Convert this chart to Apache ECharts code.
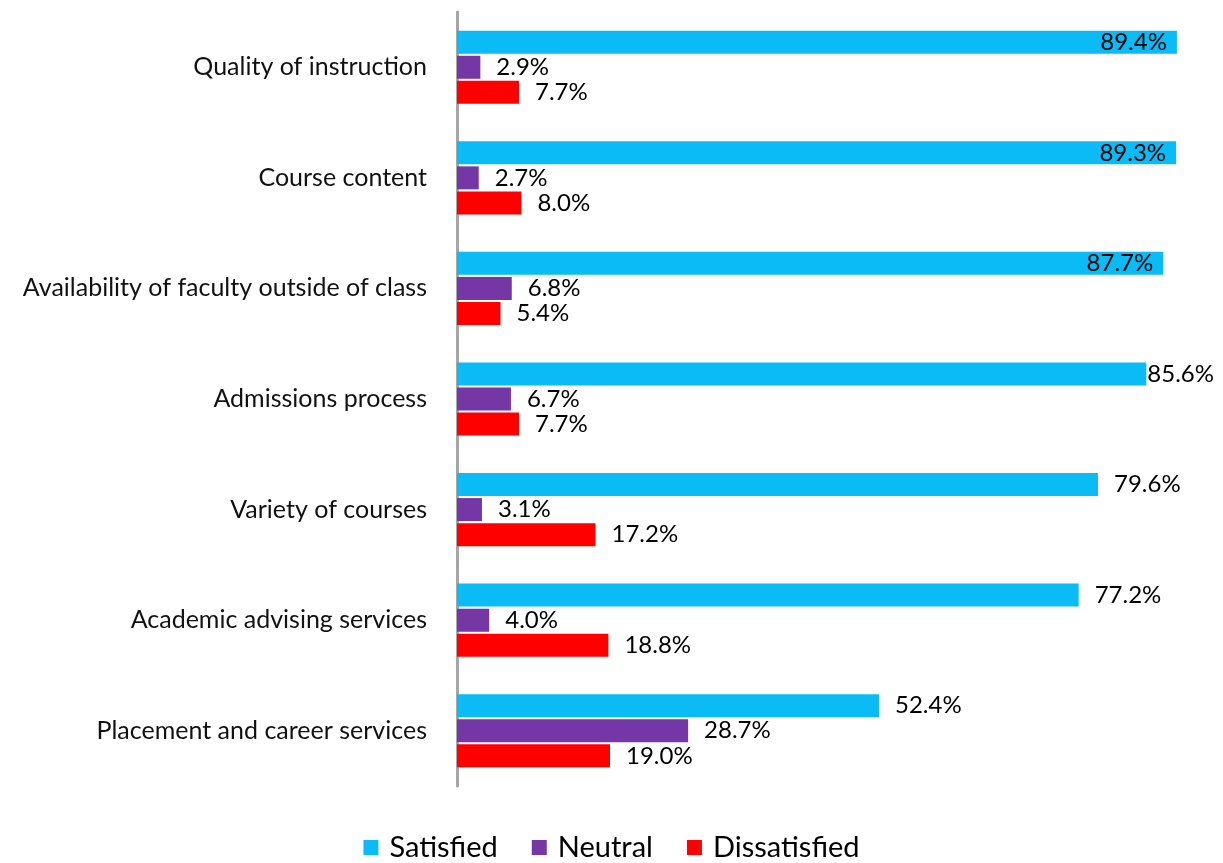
<!DOCTYPE html>
<html>
<head>
<meta charset="utf-8">
<script src="https://cdn.jsdelivr.net/npm/echarts@6/dist/echarts.min.js"></script>
<style>html,body{margin:0;padding:0;background:#fff}#c{width:1223px;height:863px}</style>
</head>
<body>
<div id="c"></div>
<script>
const categories = ["Quality of instruction","Course content","Availability of faculty outside of class","Admissions process","Variety of courses","Academic advising services","Placement and career services"];
const satisfied = [89.4, 89.3, 87.7, 85.6, 79.6, 77.2, 52.4];
const neutral = [2.9, 2.7, 6.8, 6.7, 3.1, 4.0, 28.7];
const dissatisfied = [7.7, 8.0, 5.4, 7.7, 17.2, 18.8, 19.0];
const seriesNames = ["Satisfied","Neutral","Dissatisfied"];
const colors = ["#0ABBF5","#7537A5","#FF0000"];
const FONT = "Lato, 'Open Sans', sans-serif";
const XMAX = 95;
const LABEL_RIGHT_LIMIT = 1214;

function mkData(vals){
  return vals.map(v => {
    const item = {value: v};
    if (v > 87) item.label = {position: 'insideRight', distance: 10};
    return item;
  });
}

const chart = echarts.init(document.getElementById('c'));
const series = [satisfied, neutral, dissatisfied].map((vals, i) => ({
  name: seriesNames[i],
  type: 'bar',
  data: mkData(vals),
  barWidth: 23,
  barGap: '9%',
  itemStyle: {color: colors[i]},
  label: {
    show: true, position: 'right', distance: 16,
    formatter: p => p.value.toFixed(1) + '%',
    fontFamily: FONT, fontSize: 24, color: '#000'
  },
  labelLayout: function (p) {
    const r = p.labelRect;
    if (r.x + r.width > LABEL_RIGHT_LIMIT) {
      return {x: LABEL_RIGHT_LIMIT - r.width, y: r.y + r.height / 2, align: 'left', verticalAlign: 'middle'};
    }
    return {};
  }
}));

chart.setOption({
  animation: false,
  color: colors,
  grid: {left: 457, right: 1, top: 12, bottom: 77, containLabel: false},
  legend: {
    bottom: -4, left: 'center',
    itemWidth: 15, itemHeight: 15, itemGap: 34, icon: 'rect',
    textStyle: {fontFamily: FONT, fontSize: 29, color: '#000', padding: [0,0,0,6]},
    data: seriesNames
  },
  xAxis: {
    type: 'value', min: 0, max: XMAX, show: false
  },
  yAxis: {
    type: 'category', data: categories, inverse: true,
    axisLine: {show: true, lineStyle: {color: '#A6A6A6', width: 3}},
    axisTick: {show: false},
    axisLabel: {fontFamily: FONT, fontSize: 25, color: '#111', margin: 30}
  },
  series: series
});
</script>
</body>
</html>
